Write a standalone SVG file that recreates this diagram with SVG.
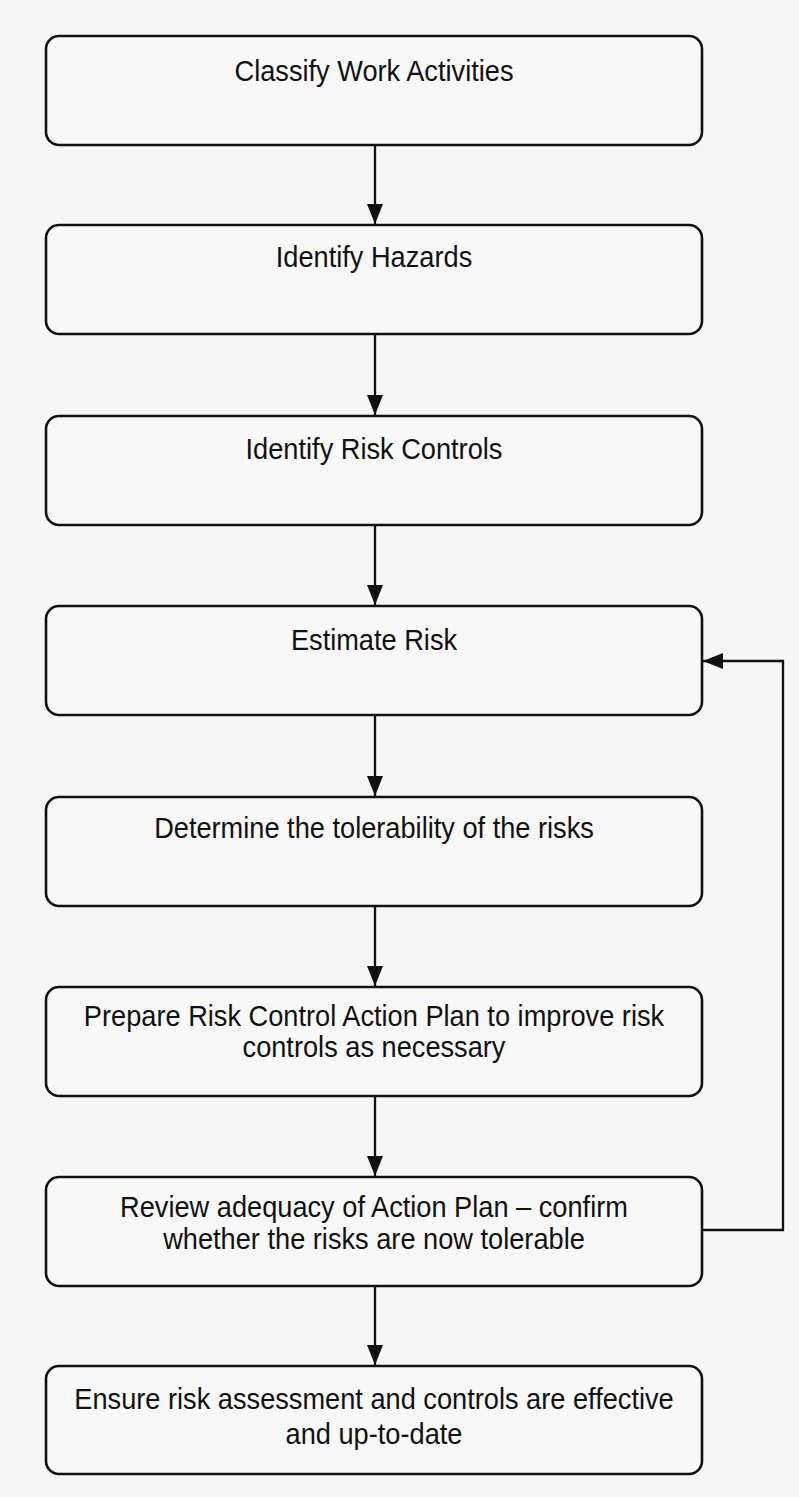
<svg xmlns="http://www.w3.org/2000/svg" width="799" height="1497" viewBox="0 0 799 1497">
<style>
.box{fill:#f8f8f8;stroke:#111;stroke-width:2.6}
.lbl{font-family:"Liberation Sans",Arial,sans-serif;font-size:27.2px;fill:#111;text-anchor:middle}
.conn{fill:none;stroke:#111;stroke-width:2.3}
</style>
<defs>
<marker id="arr" viewBox="0 0 20 16" refX="20" refY="8" markerWidth="20" markerHeight="16" orient="auto" markerUnits="userSpaceOnUse">
<path d="M0,0 L20,8 L0,16 Z" fill="#111"/>
</marker>
</defs>
<rect width="799" height="1497" fill="#f6f6f6"/>
<g id="connectors">
<line class="conn" x1="375" y1="146" x2="375" y2="224" marker-end="url(#arr)"/>
<line class="conn" x1="375" y1="334" x2="375" y2="415" marker-end="url(#arr)"/>
<line class="conn" x1="375" y1="526" x2="375" y2="605" marker-end="url(#arr)"/>
<line class="conn" x1="375" y1="716" x2="375" y2="796" marker-end="url(#arr)"/>
<line class="conn" x1="375" y1="906" x2="375" y2="986" marker-end="url(#arr)"/>
<line class="conn" x1="375" y1="1096" x2="375" y2="1176" marker-end="url(#arr)"/>
<line class="conn" x1="375" y1="1286" x2="375" y2="1365" marker-end="url(#arr)"/>
<polyline class="conn" points="703,1230 783,1230 783,661 703,661" marker-end="url(#arr)"/>
</g>
<g id="n1"><rect class="box" x="46" y="36" width="656" height="109" rx="13"/><text class="lbl" transform="translate(374,81) scale(1,1.08)">Classify Work Activities</text></g>
<g id="n2"><rect class="box" x="46" y="225" width="656" height="109" rx="13"/><text class="lbl" transform="translate(374,267) scale(1,1.08)">Identify Hazards</text></g>
<g id="n3"><rect class="box" x="46" y="416" width="656" height="109" rx="13"/><text class="lbl" transform="translate(374,459) scale(1,1.08)">Identify Risk Controls</text></g>
<g id="n4"><rect class="box" x="46" y="606" width="656" height="109" rx="13"/><text class="lbl" transform="translate(374,650) scale(1,1.08)">Estimate Risk</text></g>
<g id="n5"><rect class="box" x="46" y="797" width="656" height="109" rx="13"/><text class="lbl" transform="translate(374,838) scale(1,1.08)">Determine the tolerability of the risks</text></g>
<g id="n6"><rect class="box" x="46" y="987" width="656" height="109" rx="13"/><text class="lbl" transform="translate(374,1026) scale(1,1.08)">Prepare Risk Control Action Plan to improve risk</text><text class="lbl" transform="translate(374,1057) scale(1,1.08)">controls as necessary</text></g>
<g id="n7"><rect class="box" x="46" y="1177" width="656" height="109" rx="13"/><text class="lbl" transform="translate(374,1217) scale(1,1.08)">Review adequacy of Action Plan – confirm</text><text class="lbl" transform="translate(374,1249) scale(1,1.08)">whether the risks are now tolerable</text></g>
<g id="n8"><rect class="box" x="46" y="1366" width="656" height="108" rx="13"/><text class="lbl" transform="translate(374,1409) scale(1,1.08)">Ensure risk assessment and controls are effective</text><text class="lbl" transform="translate(374,1444) scale(1,1.08)">and up-to-date</text></g>
</svg>
